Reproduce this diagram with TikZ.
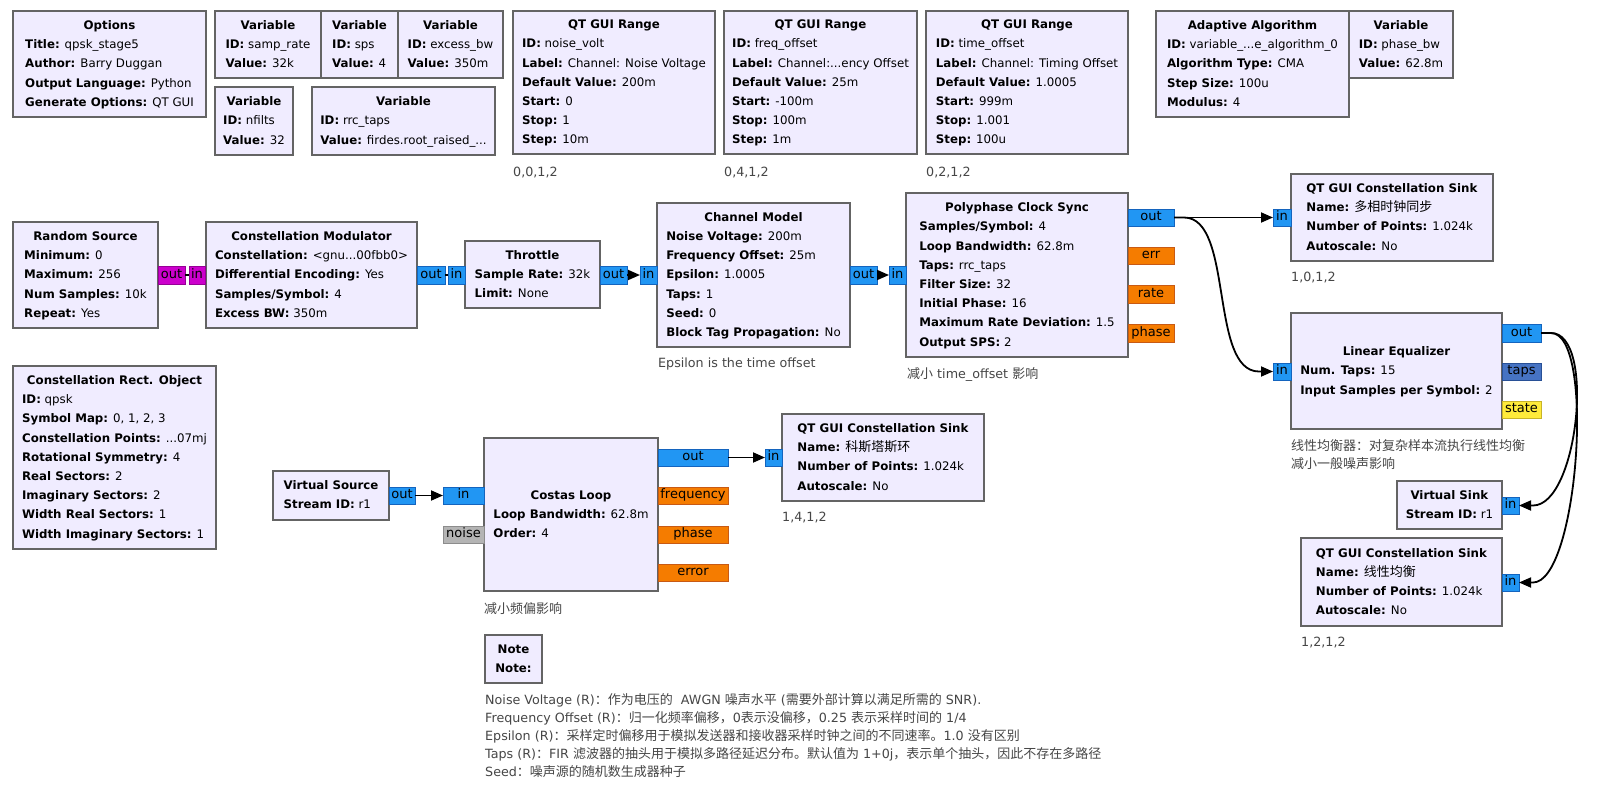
\documentclass[tikz,border=0pt]{standalone}
\usepackage{fontspec}
\setmainfont{DejaVu Sans}
\newfontfamily\cjk{Noto Sans CJK SC}
\usetikzlibrary{arrows.meta}
\definecolor{blkfill}{RGB}{240,236,255}
\definecolor{blkdraw}{RGB}{100,100,100}
\definecolor{pcx}{RGB}{33,150,243}
\definecolor{pcxd}{RGB}{20,100,190}
\definecolor{pfl}{RGB}{245,124,0}
\definecolor{pfld}{RGB}{200,90,20}
\definecolor{pby}{RGB}{204,0,204}
\definecolor{pbyd}{RGB}{150,0,150}
\definecolor{pvec}{RGB}{70,115,195}
\definecolor{pvecd}{RGB}{40,80,150}
\definecolor{pint}{RGB}{255,235,59}
\definecolor{pintd}{RGB}{200,180,40}
\definecolor{pmsg}{RGB}{180,180,180}
\definecolor{pmsgd}{RGB}{140,140,140}
\definecolor{cmt}{RGB}{70,70,70}
\newcommand{\zh}[1]{{\cjk\fontsize{13}{19.2}\selectfont #1}}
\newcommand{\kv}[2]{\textbf{#1:} #2}
\tikzset{
  basefont/.style={font=\fontsize{11.8}{19.2}\selectfont},
  blk/.style={draw=blkdraw, fill=blkfill, line width=1.6pt, inner sep=0pt, outer sep=0pt},
  blktext/.style={basefont, inner sep=0pt, align=left},
  portbox/.style={font=\fontsize{13}{15}\selectfont, line width=1pt, inner sep=0pt, outer sep=0pt, text height=9.5pt, text depth=3pt},
  pcxs/.style={portbox, fill=pcx, draw=pcxd},
  pfls/.style={portbox, fill=pfl, draw=pfld},
  pbys/.style={portbox, fill=pby, draw=pbyd},
  pvecs/.style={portbox, fill=pvec, draw=pvecd},
  pints/.style={portbox, fill=pint, draw=pintd},
  pmsgs/.style={portbox, fill=pmsg, draw=pmsgd},
  conn/.style={line width=1.8pt, -{Triangle[length=12pt,width=10pt]}},
  connplain/.style={line width=1.8pt},
  cmtx/.style={font=\fontsize{12.7}{15}\selectfont, text=cmt, anchor=base west, inner sep=0pt},
}
\newcommand{\grcblock}[7]{%
  \node[blk, minimum width={(#4)-(#2)}, minimum height={(#5)-(#3)}] (#1) at ({((#2)+(#4))/2},{((#3)+(#5))/2}) {};
  \node[blktext] at (#1.center) {\begin{tabular}{@{}l@{}}\multicolumn{1}{@{}c@{}}{\textbf{#6}}\\#7\end{tabular}};}
\newcommand{\grcport}[7]{%
  \node[#6, minimum width={(#4)-(#2)}, minimum height={(#5)-(#3)}] (#1) at ({((#2)+(#4))/2},{((#3)+(#5))/2}) {#7};}
\begin{document}
\begin{tikzpicture}[x=1pt,y=-1pt]
\fill[white] (0,0) rectangle (1607,785);
\useasboundingbox (0,0) rectangle (1607,785);

% top row
\grcblock{opts}{13}{11}{206}{117}{Options}{\kv{Title}{qpsk\_stage5}\\\kv{Author}{Barry Duggan}\\\kv{Output Language}{Python}\\\kv{Generate Options}{QT GUI}}
\grcblock{vsr}{215}{11}{321}{78}{Variable}{\kv{ID}{samp\_rate}\\\kv{Value}{32k}}
\grcblock{vsps}{321}{11}{398}{78}{Variable}{\kv{ID}{sps}\\\kv{Value}{4}}
\grcblock{vebw}{398}{11}{503}{78}{Variable}{\kv{ID}{excess\_bw}\\\kv{Value}{350m}}
\grcblock{vnf}{215}{87}{293}{155}{Variable}{\kv{ID}{nfilts}\\\kv{Value}{32}}
\grcblock{vrrc}{312}{87}{495}{155}{Variable}{\kv{ID}{rrc\_taps}\\\kv{Value}{firdes.root\_raised\_...}}
\grcblock{qr1}{513}{11}{715}{154}{QT GUI Range}{\kv{ID}{noise\_volt}\\\kv{Label}{Channel: Noise Voltage}\\\kv{Default Value}{200m}\\\kv{Start}{0}\\\kv{Stop}{1}\\\kv{Step}{10m}}
\grcblock{qr2}{724}{11}{917}{154}{QT GUI Range}{\kv{ID}{freq\_offset}\\\kv{Label}{Channel:...ency Offset}\\\kv{Default Value}{25m}\\\kv{Start}{-100m}\\\kv{Stop}{100m}\\\kv{Step}{1m}}
\grcblock{qr3}{926}{11}{1128}{154}{QT GUI Range}{\kv{ID}{time\_offset}\\\kv{Label}{Channel: Timing Offset}\\\kv{Default Value}{1.0005}\\\kv{Start}{999m}\\\kv{Stop}{1.001}\\\kv{Step}{100u}}
\grcblock{adapt}{1156}{11}{1349}{117}{Adaptive Algorithm}{\kv{ID}{variable\_...e\_algorithm\_0}\\\kv{Algorithm Type}{CMA}\\\kv{Step Size}{100u}\\\kv{Modulus}{4}}
\grcblock{vpbw}{1349}{11}{1453}{78}{Variable}{\kv{ID}{phase\_bw}\\\kv{Value}{62.8m}}
\node[cmtx] (l1) at (513,176) {0,0,1,2};
\node[cmtx] (l2) at (724,176) {0,4,1,2};
\node[cmtx] (l3) at (926,176) {0,2,1,2};

% main chain
\grcblock{rsrc}{13}{222}{158}{328}{Random Source}{\kv{Minimum}{0}\\\kv{Maximum}{256}\\\kv{Num Samples}{10k}\\\kv{Repeat}{Yes}}
\grcblock{cmod}{206}{222}{417}{328}{Constellation Modulator}{\kv{Constellation}{<gnu...00fbb0>}\\\kv{Differential Encoding}{Yes}\\\kv{Samples/Symbol}{4}\\\kv{Excess BW}{350m}}
\grcblock{thr}{465}{241}{600}{308}{Throttle}{\kv{Sample Rate}{32k}\\\kv{Limit}{None}}
\grcblock{chan}{657}{203}{850}{347}{Channel Model}{\kv{Noise Voltage}{200m}\\\kv{Frequency Offset}{25m}\\\kv{Epsilon}{1.0005}\\\kv{Taps}{1}\\\kv{Seed}{0}\\\kv{Block Tag Propagation}{No}}
\grcblock{pcs}{906}{193}{1128}{357}{Polyphase Clock Sync}{\kv{Samples/Symbol}{4}\\\kv{Loop Bandwidth}{62.8m}\\\kv{Taps}{rrc\_taps}\\\kv{Filter Size}{32}\\\kv{Initial Phase}{16}\\\kv{Maximum Rate Deviation}{1.5}\\\kv{Output SPS}{2}}
\grcblock{qs1}{1291}{174}{1493}{261}{QT GUI Constellation Sink}{\kv{Name}{\zh{多相时钟同步}}\\\kv{Number of Points}{1.024k}\\\kv{Autoscale}{No}}
\grcblock{le}{1291}{313}{1502}{429}{Linear Equalizer}{\kv{Num. Taps}{15}\\\kv{Input Samples per Symbol}{2}}
\grcblock{vsink}{1397}{481}{1502}{529}{Virtual Sink}{\kv{Stream ID}{r1}}
\grcblock{qs2}{1301}{538}{1502}{626}{QT GUI Constellation Sink}{\kv{Name}{\zh{线性均衡}}\\\kv{Number of Points}{1.024k}\\\kv{Autoscale}{No}}

\grcblock{cro}{13}{366}{216}{549}{Constellation Rect. Object}{\kv{ID}{qpsk}\\\kv{Symbol Map}{0, 1, 2, 3}\\\kv{Constellation Points}{...07mj}\\\kv{Rotational Symmetry}{4}\\\kv{Real Sectors}{2}\\\kv{Imaginary Sectors}{2}\\\kv{Width Real Sectors}{1}\\\kv{Width Imaginary Sectors}{1}}
\grcblock{vsrc}{273}{471}{389}{520}{Virtual Source}{\kv{Stream ID}{r1}}
\grcblock{costas}{484}{438}{658}{591}{Costas Loop}{\kv{Loop Bandwidth}{62.8m}\\\kv{Order}{4}}
\grcblock{qs3}{782}{414}{984}{501}{QT GUI Constellation Sink}{\kv{Name}{\zh{科斯塔斯环}}\\\kv{Number of Points}{1.024k}\\\kv{Autoscale}{No}}
\grcblock{note}{485}{635}{542}{683}{Note}{\textbf{Note:}}

% ports
\grcport{rsrc-out}{158}{266}{185}{284}{pbys}{out}
\grcport{cmod-in}{189}{266}{205}{284}{pbys}{in}
\grcport{cmod-out}{417}{266}{445}{284}{pcxs}{out}
\grcport{thr-in}{448}{266}{465}{284}{pcxs}{in}
\grcport{thr-out}{600}{266}{627}{284}{pcxs}{out}
\grcport{chan-in}{640}{266}{657}{284}{pcxs}{in}
\grcport{chan-out}{850}{266}{877}{284}{pcxs}{out}
\grcport{pcs-in}{889}{266}{906}{284}{pcxs}{in}
\grcport{pcs-out}{1128}{209}{1174}{226}{pcxs}{out}
\grcport{pcs-err}{1128}{247}{1174}{264}{pfls}{err}
\grcport{pcs-rate}{1128}{285}{1174}{303}{pfls}{rate}
\grcport{pcs-phase}{1128}{324}{1174}{342}{pfls}{phase}
\grcport{qs1-in}{1273}{209}{1291}{226}{pcxs}{in}
\grcport{le-in}{1273}{363}{1291}{380}{pcxs}{in}
\grcport{le-out}{1502}{324}{1541}{342}{pcxs}{out}
\grcport{le-taps}{1502}{363}{1541}{380}{pvecs}{taps}
\grcport{le-state}{1502}{401}{1541}{418}{pints}{state}
\grcport{vsink-in}{1502}{497}{1519}{514}{pcxs}{in}
\grcport{qs2-in}{1502}{574}{1519}{591}{pcxs}{in}
\grcport{vsrc-out}{389}{487}{415}{504}{pcxs}{out}
\grcport{costas-in}{443}{487}{484}{504}{pcxs}{in}
\grcport{costas-noise}{443}{526}{484}{543}{pmsgs}{noise}
\grcport{costas-out}{658}{449}{728}{466}{pcxs}{out}
\grcport{costas-freq}{658}{487}{728}{504}{pfls}{frequency}
\grcport{costas-phase}{658}{526}{728}{543}{pfls}{phase}
\grcport{costas-err}{658}{564}{728}{581}{pfls}{error}
\grcport{qs3-in}{765}{449}{782}{466}{pcxs}{in}

% connections
\draw[connplain] (rsrc-out.east) -- (cmod-in.west);
\draw[connplain] (cmod-out.east) -- (thr-in.west);
\draw[conn] (thr-out.east) -- (chan-in.west);
\draw[conn] (chan-out.east) -- (pcs-in.west);
\draw[conn] (pcs-out.east) -- (qs1-in.west);
\draw[conn] (pcs-out.east) -- ++(10,0) .. controls +(50,0) and +(-50,0) .. ([xshift=-14pt]le-in.west) -- (le-in.west);
\draw[conn] (le-out.east) -- ++(10,0) .. controls +(45,0) and +(45,0) .. ([xshift=14pt]vsink-in.east) -- (vsink-in.east);
\draw[conn] (le-out.east) -- ++(10,0) .. controls +(45,0) and +(45,0) .. ([xshift=14pt]qs2-in.east) -- (qs2-in.east);
\draw[conn] (vsrc-out.east) -- (costas-in.west);
\draw[conn] (costas-out.east) -- (qs3-in.west);

% comments and labels
\node[cmtx] (c1) at (658,367.5) {Epsilon is the time offset};
\node[cmtx] (c2) at (907,378.5) {\zh{减小} time\_offset \zh{影响}};
\node[cmtx] (c3) at (1291,450.5) {\zh{线性均衡器：对复杂样本流执行线性均衡}};
\node[cmtx] (c4) at (1291,468.5) {\zh{减小一般噪声影响}};
\node[cmtx] (c5) at (484,613.5) {\zh{减小频偏影响}};
\node[cmtx] (l4) at (1291,281.5) {1,0,1,2};
\node[cmtx] (l5) at (782,521.5) {1,4,1,2};
\node[cmtx] (l6) at (1301,646.5) {1,2,1,2};

\node[cmtx] (n1) at (485,704.5) {Noise Voltage (R)\zh{：作为电压的}\ \ AWGN \zh{噪声水平} (\zh{需要外部计算以满足所需的} SNR).};
\node[cmtx] (n2) at (485,722.5) {Frequency Offset (R)\zh{：归一化频率偏移，}0\zh{表示没偏移，}0.25 \zh{表示采样时间的} 1/4};
\node[cmtx] (n3) at (485,740.5) {Epsilon (R)\zh{：采样定时偏移用于模拟发送器和接收器采样时钟之间的不同速率。}1.0 \zh{没有区别}};
\node[cmtx] (n4) at (485,758.5) {Taps (R)\zh{：}FIR \zh{滤波器的抽头用于模拟多路径延迟分布。默认值为} 1+0j\zh{，表示单个抽头，因此不存在多路径}};
\node[cmtx] (n5) at (485,776.5) {Seed\zh{：噪声源的随机数生成器种子}};
\end{tikzpicture}
\end{document}
